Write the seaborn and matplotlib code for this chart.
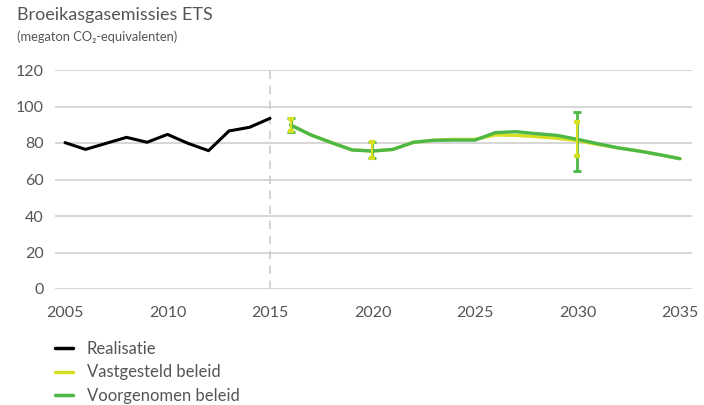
import numpy as np
import pandas as pd
import matplotlib
matplotlib.use("Agg")
import matplotlib.pyplot as plt
import seaborn as sns

# data
years_real = [2005, 2006, 2007, 2008, 2009, 2010, 2011, 2012, 2013, 2014, 2015]
realisatie = [80.2, 76.5, 79.8, 83.1, 80.4, 84.7, 79.8, 75.8, 86.6, 88.6, 93.5]

years_proj = list(range(2016, 2036))
voorgenomen = [89.9, 84.4, 80.2, 76.2, 75.6, 76.5, 80.4, 81.5, 81.6, 81.6,
               85.7, 86.2, 85.1, 84.2, 82.0, 79.6, 77.3, 75.6, 73.6, 71.4]
vastgesteld = [89.9, 84.4, 80.2, 76.2, 75.6, 76.5, 80.4, 81.5, 82.0, 82.0,
               84.4, 84.2, 83.5, 82.6, 81.3, 79.2, 77.3, 75.6, 73.6, 71.4]

# bandbreedtes
err_years = [2016, 2020, 2030]
vast_low = [86.5, 72.0, 73.0]
vast_high = [93.3, 80.5, 91.3]
voor_low = [86.2, 71.6, 64.8]
voor_high = [93.5, 80.7, 96.8]

c_black = "#000000"
c_yellow = "#d7df23"
c_green = "#4db848"
c_text = "#555555"

sns.set_style("white")
plt.rcParams['font.family'] = ['Lato', 'DejaVu Sans']

fig = plt.figure(figsize=(7.04, 4.05), dpi=100)
ax = fig.add_axes([55 / 704, 1 - 289 / 405, (692 - 55) / 704, (289 - 70) / 405])

df_real = pd.DataFrame({"jaar": years_real, "waarde": realisatie})
df_vast = pd.DataFrame({"jaar": years_proj, "waarde": vastgesteld})
df_voor = pd.DataFrame({"jaar": years_proj, "waarde": voorgenomen})

ax.axvline(2015, color="#cccccc", lw=1.2, ls=(0, (5, 4)), zorder=1)

sns.lineplot(data=df_real, x="jaar", y="waarde", color=c_black, lw=2.2, ax=ax,
             label="Realisatie", zorder=3)
sns.lineplot(data=df_vast, x="jaar", y="waarde", color=c_yellow, lw=2.4, ax=ax,
             label="Vastgesteld beleid", zorder=3)
sns.lineplot(data=df_voor, x="jaar", y="waarde", color=c_green, lw=2.4, ax=ax,
             label="Voorgenomen beleid", zorder=4)

vast_mid = [vastgesteld[years_proj.index(y)] for y in err_years]
voor_mid = [voorgenomen[years_proj.index(y)] for y in err_years]
ax.errorbar(err_years, voor_mid,
            yerr=[np.subtract(voor_mid, voor_low), np.subtract(voor_high, voor_mid)],
            fmt="none", ecolor=c_green, elinewidth=2, capsize=3, capthick=2, zorder=5)
ax.errorbar(err_years, vast_mid,
            yerr=[np.subtract(vast_mid, vast_low), np.subtract(vast_high, vast_mid)],
            fmt="none", ecolor=c_yellow, elinewidth=1.5, capsize=2.5, capthick=3, zorder=6)

ax.set_xlim(2005 - 10 / 20.4, 2035 + 12 / 20.4)
ax.set_ylim(0, 120)
ax.set_yticks(range(0, 121, 20))
ax.set_xticks(range(2005, 2036, 5))
ax.yaxis.grid(True, color="#d0d0d0", lw=1.2)
ax.xaxis.grid(False)
for s in ax.spines.values():
    s.set_visible(False)
ax.tick_params(axis="both", length=0, labelsize=11.5, labelcolor=c_text)
ax.tick_params(axis="y", pad=8)
ax.tick_params(axis="x", pad=12)
ax.set_xlabel("")
ax.set_ylabel("")

fig.text(17 / 704, 1 - 15 / 405, "Broeikasgasemissies ETS", fontsize=13,
         color=c_text, va="center", ha="left")
fig.text(17 / 704, 1 - 37 / 405, "(megaton CO₂-equivalenten)", fontsize=9.3,
         color=c_text, va="center", ha="left")

ax.get_legend().remove()
handles, labels = ax.get_legend_handles_labels()
leg = fig.legend(handles, labels, loc="upper left", bbox_to_anchor=(55 / 704, 1 - 341 / 405),
                 frameon=False, fontsize=12, handlelength=1.05, handletextpad=0.85,
                 labelspacing=0.45, labelcolor=c_text, borderaxespad=0, borderpad=0)
for line in leg.get_lines():
    line.set_linewidth(2.5)

fig.savefig("out.png", dpi=100)
